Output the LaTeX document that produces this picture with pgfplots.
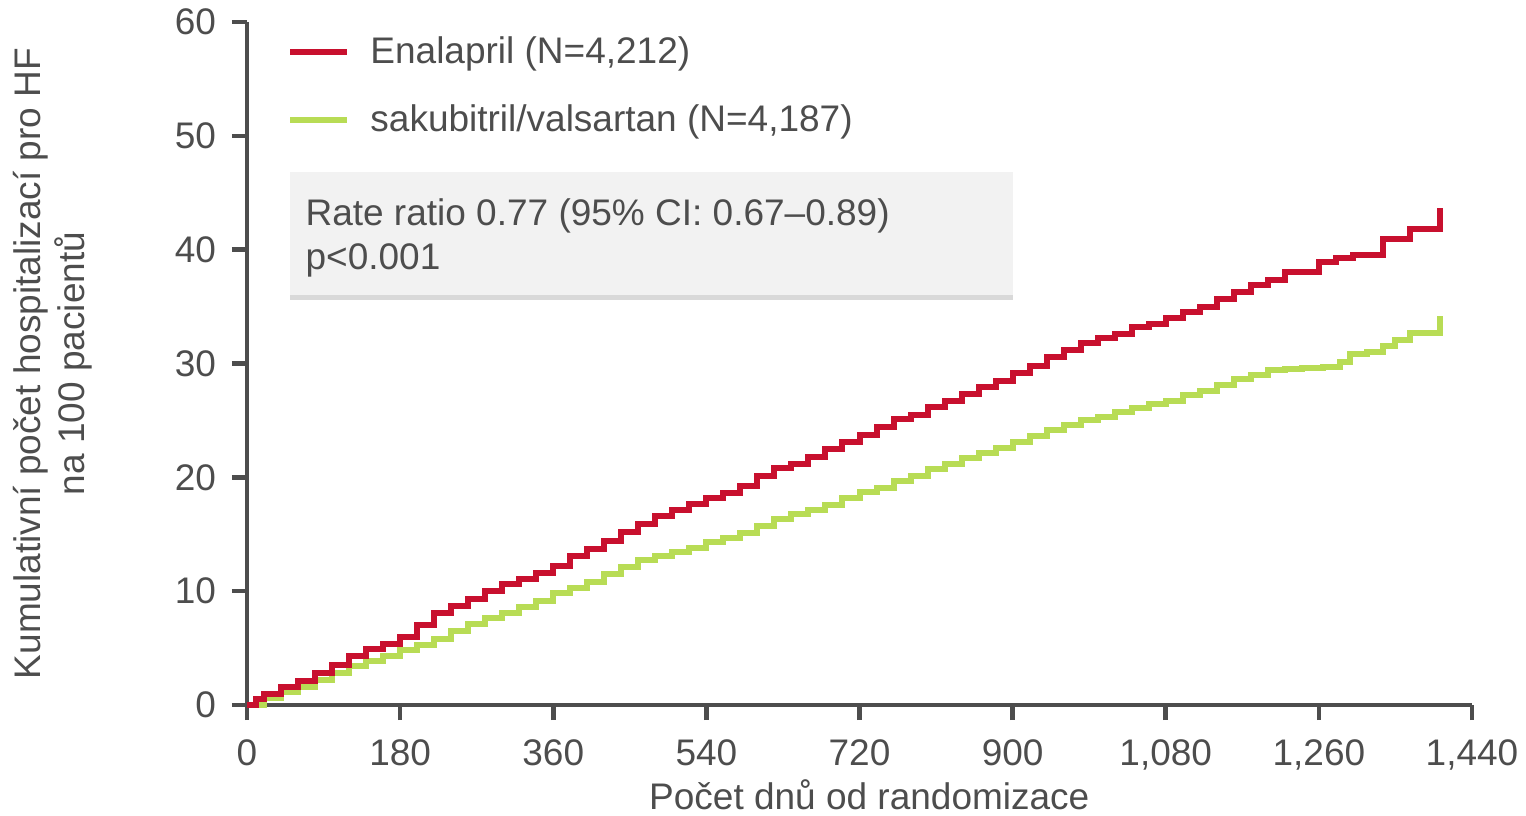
\documentclass[border=0pt]{standalone}
\usepackage{pgfplots}
\pgfplotsset{compat=1.18}
\usepackage{fontspec}
\setmainfont{Liberation Sans}
\usetikzlibrary{shadows}
\definecolor{enared}{HTML}{C8102E}
\definecolor{sacgreen}{HTML}{B8DC55}
\definecolor{axgray}{HTML}{4D4D4D}
\definecolor{boxgray}{HTML}{F2F2F2}
\newcommand{\chartfont}{\fontsize{18.5}{22}\selectfont}
\begin{document}
\begin{tikzpicture}
\useasboundingbox (-123.5pt,-55pt) rectangle (639.5pt,352.5pt);
\begin{axis}[
  scale only axis, width=612.5pt, height=341.5pt,
  xmin=0, xmax=1440, ymin=0, ymax=60,
  axis x line=bottom, axis y line=left,
  axis line style={-, line width=2.3pt, draw=axgray},
  xtick={0,180,...,1440}, ytick={0,10,...,60},
  tick align=outside, major tick length=7.5pt,
  tick style={line width=2.3pt, draw=axgray},
  /pgf/number format/assume math mode=true,
  /pgf/number format/1000 sep={,},
  tick label style={font=\chartfont, text=axgray},
  xticklabel style={yshift=-6.5pt},
  yticklabel style={xshift=-4.5pt},
  label style={font=\chartfont, text=axgray},
  xlabel={Počet dnů od randomizace},
  ylabel={Kumulativní počet hospitalizací pro HF\\na 100 pacientů},
  xlabel style={at={(axis description cs:0.508,-0.153)}, anchor=base},
  ylabel style={at={(axis description cs:-0.159,0.5)}, anchor=center, align=center},
  legend style={at={(axis description cs:0.0278,0.9906)}, anchor=north west,
    draw=none, fill=none, font=\chartfont, text=axgray, row sep=15pt, column sep=8pt},
  legend image code/.code={\draw[#1, line width=3pt] (0pt,0pt) -- (28.5pt,0pt);},
  legend cell align=left,
  reverse legend,
  clip=false,
]
\draw[draw=none, fill=boxgray, drop shadow={shadow xshift=0pt, shadow yshift=-2.5pt, opacity=0.3}]
  (axis description cs:0.0351,0.600) rectangle (axis description cs:0.6253,0.780);
\node[anchor=west, align=left, font=\chartfont, text=axgray, inner sep=0pt]
  at (axis description cs:0.0475,0.684) {Rate ratio 0.77 (95\% CI: 0.67--0.89)\\p<0.001};

\addplot[const plot, sacgreen, line width=3pt] coordinates {
(0,0) (20,0.6) (40,1.1) (60,1.6) (80,2.2) (100,2.8) (120,3.4) (140,3.9) (160,4.3) (180,4.8)
(200,5.3) (220,5.8) (240,6.5) (260,7.1) (280,7.6) (300,8.1) (320,8.6) (340,9.1) (360,9.8)
(380,10.3) (400,10.8) (420,11.5) (440,12.1) (460,12.7) (480,13.1) (500,13.4) (520,13.8)
(540,14.3) (560,14.7) (580,15.1) (600,15.7) (620,16.3) (640,16.8) (660,17.1) (680,17.6)
(700,18.2) (720,18.7) (740,19.1) (760,19.7) (780,20.1) (800,20.7) (820,21.2) (840,21.7)
(860,22.1) (880,22.6) (900,23.1) (920,23.6) (940,24.2) (960,24.6) (980,25.0) (1000,25.3)
(1020,25.7) (1040,26.1) (1060,26.4) (1080,26.7) (1100,27.2) (1120,27.6) (1140,28.1)
(1160,28.6) (1180,29.0) (1200,29.4) (1220,29.5) (1240,29.6) (1265,29.7) (1285,30.1)
(1296,30.8) (1317,31.0) (1335,31.5) (1350,32.1) (1367,32.7) (1402,34.2)
};
\addlegendentry{sakubitril/valsartan (N=4,187)}

\addplot[const plot, enared, line width=3pt] coordinates {
(0,0) (10,0.5) (20,1.0) (40,1.6) (60,2.1) (80,2.8) (100,3.5) (120,4.3) (140,4.9) (160,5.4)
(180,6.0) (200,7.0) (220,8.1) (240,8.7) (260,9.3) (280,10.0) (300,10.6) (320,11.1) (340,11.6)
(360,12.2) (380,13.1) (400,13.7) (420,14.4) (440,15.2) (460,15.9) (480,16.6) (500,17.1)
(520,17.7) (540,18.2) (560,18.6) (580,19.2) (600,20.1) (620,20.8) (640,21.2) (660,21.8)
(680,22.5) (700,23.1) (720,23.7) (740,24.4) (760,25.1) (780,25.5) (800,26.2) (820,26.7)
(840,27.3) (860,27.9) (880,28.5) (900,29.2) (920,29.8) (940,30.6) (960,31.2) (980,31.8)
(1000,32.2) (1020,32.6) (1040,33.2) (1060,33.5) (1080,34.0) (1100,34.5) (1120,35.0)
(1140,35.7) (1160,36.3) (1180,36.9) (1200,37.3) (1220,38.0) (1240,38.0) (1260,38.9)
(1280,39.3) (1300,39.5) (1320,39.5) (1335,40.9) (1367,41.8) (1402,43.7)
};
\addlegendentry{Enalapril (N=4,212)}
\end{axis}
\end{tikzpicture}
\end{document}
